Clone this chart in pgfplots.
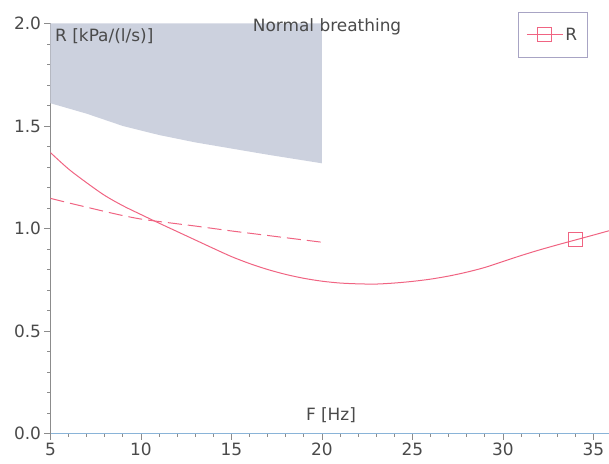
\documentclass[border=0pt]{standalone}
\usepackage{pgfplots}
\pgfplotsset{compat=1.18}
\usepackage{fontspec}
\setmainfont{DejaVu Sans}

\definecolor{curve}{HTML}{F06482}
\definecolor{shade}{HTML}{CCD1DE}
\definecolor{txt}{HTML}{4A4A4A}
\definecolor{yaxis}{HTML}{8C8C8C}
\definecolor{xaxis}{HTML}{8AB4D8}
\definecolor{lgdborder}{HTML}{A8A4C4}

\newcommand{\lblfont}{\fontsize{17}{20}\selectfont}

\begin{document}
\begin{tikzpicture}
\path[use as bounding box] (-50.5bp,-30.5bp) rectangle (558.5bp,433.5bp);
\begin{axis}[
  at={(0,0)}, anchor=south west,
  scale only axis, width=558.5bp, height=410bp,
  xmin=5, xmax=35.86, ymin=0, ymax=2,
  axis x line=bottom, axis y line=left,
  x axis line style={-, draw=xaxis, line width=1bp},
  y axis line style={-, draw=yaxis, line width=1bp},
  xtick={5,10,...,35}, minor x tick num=4,
  ytick={0,0.5,1,1.5,2}, minor y tick num=4,
  tick align=outside,
  major tick length=6bp, minor tick length=3bp,
  tick style={draw=yaxis, line width=0.8bp},
  /pgf/number format/assume math mode=true,
  ticklabel style={font=\lblfont, text=txt},
  yticklabel style={/pgf/number format/.cd, fixed, fixed zerofill, precision=1},
  xticklabel style={/pgf/number format/.cd, fixed, precision=0},
  legend style={at={(0.837,1.029)}, anchor=north west, draw=lgdborder,
    line width=0.8bp, font=\lblfont, text=txt, inner xsep=8bp, inner ysep=14bp,
    cells={anchor=west}},
  legend image code/.code={
    \draw[mark repeat=2, mark phase=2, #1] plot coordinates {(0bp,0bp) (18bp,0bp) (36bp,0bp)};
  },
  clip mode=individual,
]
% normal-breathing reference band
\addplot[fill=shade, draw=none, forget plot] coordinates {
  (5,2) (20,2) (20,1.318) (17,1.36) (15,1.39) (13,1.42) (11,1.456)
  (9,1.50) (7,1.56) (5,1.611)
} -- cycle;

% measured resistance
\addplot[curve, line width=1bp, smooth, forget plot]
coordinates {
  (5,1.370) (6,1.290) (7,1.223) (8,1.161) (9,1.111) (10,1.068)
  (11,1.026) (12,0.985) (13,0.944) (14,0.903) (15,0.863) (16,0.829)
  (17,0.800) (18,0.776) (19,0.757) (20,0.743) (21,0.734) (22,0.730)
  (23,0.729) (24,0.734) (25,0.742) (26,0.753) (27,0.768) (28,0.787)
  (29,0.810) (30,0.839) (31,0.868) (32,0.895) (33,0.920) (34,0.944)
  (35,0.968) (35.86,0.989)
};
% marker on the curve
\addplot[curve, only marks, mark=square, mark size=7bp,
  mark options={solid, line width=1bp, fill=none}, forget plot]
coordinates {(34,0.944)};

\addlegendimage{curve, line width=1bp, mark=square, mark size=7bp,
  mark options={solid, line width=1bp, fill=none}}
\addlegendentry{R}

% lower limit of normal
\addplot[curve, line width=1bp, smooth, dash pattern=on 14bp off 6bp, forget plot]
coordinates {
  (5,1.147) (6,1.125) (7,1.104) (8,1.083) (9,1.063) (10,1.046)
  (11,1.034) (12,1.023) (13,1.012) (14,1.000) (15,0.988) (16,0.977)
  (17,0.966) (18,0.955) (19,0.944) (20,0.933)
};

\node[anchor=west, font=\lblfont, text=txt, inner sep=0pt] at (axis cs:5.25,1.939) {R [kPa/(l/s)]};
\node[font=\lblfont, text=txt, inner sep=0pt] at (axis cs:20.28,1.983) {Normal breathing};
\node[font=\lblfont, text=txt, inner sep=0pt] at (axis cs:20.5,0.09) {F [Hz]};
\end{axis}
\end{tikzpicture}
\end{document}
